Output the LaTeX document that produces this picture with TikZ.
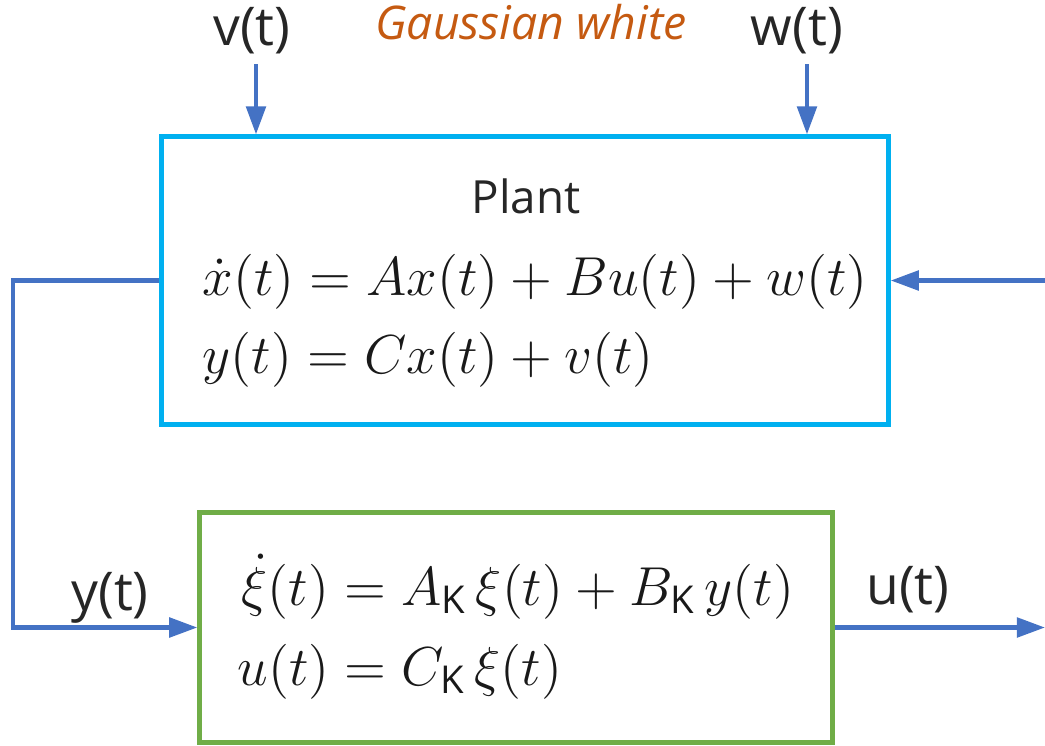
\RequirePackage{fix-cm}
\documentclass[tikz,border=0pt]{standalone}
\usepackage{amsmath}
\usepackage{fontspec}
\setsansfont{Open Sans}
\usetikzlibrary{arrows.meta}
\definecolor{Signal}{RGB}{68,114,196}
\definecolor{PlantBlue}{RGB}{0,176,240}
\definecolor{CtrlGreen}{RGB}{112,173,71}
\definecolor{NoiseOrange}{RGB}{197,90,17}
\definecolor{Ink}{RGB}{38,38,38}

\begin{document}
\begin{tikzpicture}[x=0.01cm,y=-0.01cm,
    blockbox/.style={draw, line width=1.4pt, inner sep=0pt},
    sig/.style={draw=Signal, line width=1.25pt, -{Triangle[length=8pt,width=5.5pt]}},
    lbl/.style={font=\fontsize{13}{15}\selectfont\sffamily, text=Ink, anchor=base, inner sep=0pt},
    siglbl/.style={lbl, font=\fontsize{15.2}{17}\selectfont\sffamily},
    eqn/.style={font=\fontsize{15.6}{19}\selectfont, text=black!90, anchor=base west, inner sep=0pt}]
      \useasboundingbox (0,0) rectangle (1045,745);
      % blocks
      \node[blockbox, draw=PlantBlue, minimum width=7.26cm, minimum height=2.87cm] (plant) at (525,280.5) {};
      \node[blockbox, draw=CtrlGreen, minimum width=6.32cm, minimum height=2.29cm] (ctrl) at (516,627.5) {};
      \node[lbl] (ptitle) at (526,213) {Plant};
      \node[eqn] (peq1) at (202,295) {$\dot{x}(t) = Ax(t) + Bu(t) + w(t)$};
      \node[eqn] (peq2) at (202,373) {$y(t) = Cx(t) + v(t)$};
      \node[eqn] (keq1) at (241,605) {$\dot{\xi}(t) = A_{\mathsf{K}}\,\xi(t) + B_{\mathsf{K}}\,y(t)$};
      \node[eqn] (keq2) at (237,685) {$u(t) = C_{\mathsf{K}}\,\xi(t)$};
      % signal labels
      \node[siglbl] (vlbl) at (252,45) {v(t)};
      \node[lbl, text=NoiseOrange, font=\fontsize{13.2}{15}\selectfont\sffamily\itshape] (noise) at (531,39) {Gaussian white};
      \node[siglbl] (wlbl) at (797,45) {w(t)};
      \node[siglbl] (ylbl) at (110,610) {y(t)};
      \node[siglbl] (ulbl) at (908,604) {u(t)};
      % connectors
      \coordinate (vin) at (256,64);
      \coordinate (win) at (807,64);
      \coordinate (uin) at (1045,280.5);
      \coordinate (uout) at (1045,627.5);
      \coordinate (fb) at (13,280.5);
      \draw[sig] (vin) -- (vin |- plant.north);
      \draw[sig] (win) -- (win |- plant.north);
      \draw[sig] (uin) -- (plant.east);
      \draw[sig] (plant.west) -- (fb) |- (ctrl.west);
      \draw[sig] (ctrl.east) -- (uout);
    \end{tikzpicture}
\end{document}
